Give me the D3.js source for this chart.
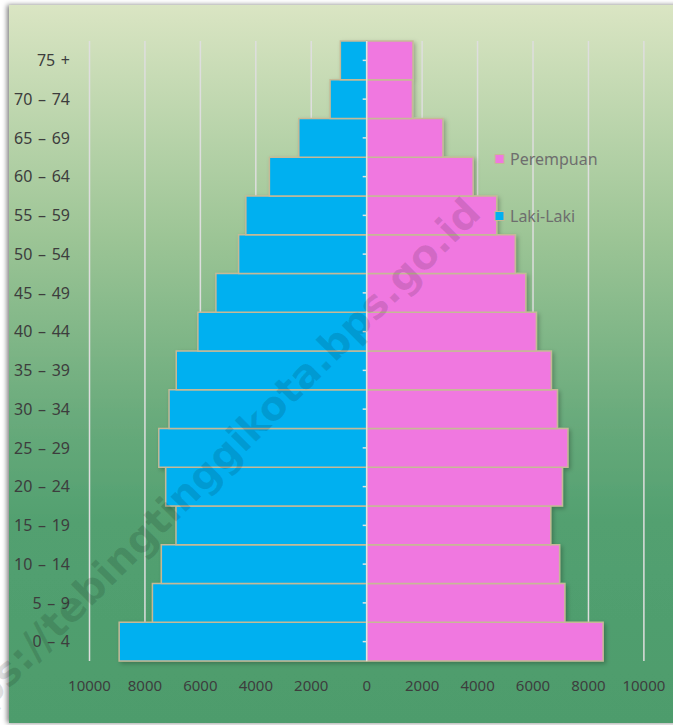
<!DOCTYPE html>
<html lang="id">
<head>
  <meta charset="utf-8">
  <title>Piramida Penduduk</title>
  <script src="https://d3js.org/d3.v7.min.js"></script>
  <style>
    body { margin: 0; background: #ffffff; }
    svg { display: block; }
  </style>
</head>
<body>
  <div id="chart"></div>
  <script>
    // data
    const ageGroups = ["0 – 4", "5 – 9", "10 – 14", "15 – 19", "20 – 24", "25 – 29", "30 – 34", "35 – 39",
                       "40 – 44", "45 – 49", "50 – 54", "55 – 59", "60 – 64", "65 – 69", "70 – 74", "75 +"];
    const lakiLaki  = [8930, 7730, 7410, 6880, 7250, 7500, 7130, 6870, 6090, 5440, 4620, 4360, 3510, 2450, 1320, 950];
    const perempuan = [8530, 7150, 6960, 6640, 7060, 7260, 6880, 6660, 6120, 5740, 5360, 4690, 3840, 2750, 1650, 1670];
    const xTicks = [-10000, -8000, -6000, -4000, -2000, 0, 2000, 4000, 6000, 8000, 10000];
    const seriesNames = ["Perempuan", "Laki-Laki"];

    const W = 673, H = 725;
    const blue = "#00b0f0", pink = "#f078e0", edge = "#c6b996";

    const rows = ageGroups.map((g, i) => ({ group: g, laki: lakiLaki[i], perem: perempuan[i] }));

    const svg = d3.select("#chart").append("svg")
        .attr("width", W)
        .attr("height", H);

    const defs = svg.append("defs");
    const grad = defs.append("linearGradient")
        .attr("id", "bg")
        .attr("gradientUnits", "userSpaceOnUse")
        .attr("x1", 0).attr("y1", 5).attr("x2", 0).attr("y2", 723);
    [[0, "#dae5c3"], [0.32, "#9dc596"], [0.58, "#68aa7b"], [0.72, "#52a070"], [1, "#4e9c6c"]]
      .forEach(s => grad.append("stop").attr("offset", s[0]).attr("stop-color", s[1]));

    const panelShadow = defs.append("filter").attr("id", "panelShadow")
        .attr("x", "-5%").attr("y", "-5%").attr("width", "110%").attr("height", "110%");
    panelShadow.append("feDropShadow")
        .attr("dx", -2).attr("dy", 0).attr("stdDeviation", 2.5)
        .attr("flood-color", "#000").attr("flood-opacity", 0.5);

    const barShadow = defs.append("filter").attr("id", "barShadow")
        .attr("x", "-5%").attr("y", "-20%").attr("width", "110%").attr("height", "140%");
    barShadow.append("feDropShadow")
        .attr("dx", 2).attr("dy", 2).attr("stdDeviation", 2)
        .attr("flood-color", "#000").attr("flood-opacity", 0.25);

    // chart area background
    svg.append("rect")
        .attr("x", 9).attr("y", 5)
        .attr("width", W - 9 + 10).attr("height", 718)
        .attr("fill", "url(#bg)")
        .attr("filter", "url(#panelShadow)");

    // scales
    const x = d3.scaleLinear()
        .domain([-10000, 10000])
        .range([89.5, 643.9]);

    const y = d3.scaleBand()
        .domain(ageGroups.slice().reverse())
        .range([41, 661])
        .padding(0);

    // vertical gridlines
    svg.append("g")
      .selectAll("line")
      .data(xTicks.filter(d => d !== 0))
      .join("line")
        .attr("x1", d => x(d)).attr("x2", d => x(d))
        .attr("y1", 41).attr("y2", 661)
        .attr("stroke", "#dedede")
        .attr("stroke-width", 1.5);

    // bars
    const bars = svg.append("g").attr("filter", "url(#barShadow)");

    bars.selectAll(".laki")
      .data(rows)
      .join("rect")
        .attr("class", "laki")
        .attr("x", d => x(-d.laki))
        .attr("y", d => y(d.group))
        .attr("width", d => x(0) - x(-d.laki))
        .attr("height", y.bandwidth())
        .attr("fill", blue)
        .attr("stroke", edge)
        .attr("stroke-width", 1.5);

    bars.selectAll(".perem")
      .data(rows)
      .join("rect")
        .attr("class", "perem")
        .attr("x", x(0))
        .attr("y", d => y(d.group))
        .attr("width", d => x(d.perem) - x(0))
        .attr("height", y.bandwidth())
        .attr("fill", pink)
        .attr("stroke", edge)
        .attr("stroke-width", 1.5);

    // centre axis with small ticks to the left
    const yAxis = svg.append("g")
        .attr("transform", `translate(${x(0)},0)`)
        .call(d3.axisLeft(y).tickSize(4).tickFormat(""));
    yAxis.select(".domain").attr("stroke", "#e2e2e2").attr("stroke-width", 1.5)
        .attr("d", `M0,41V661`);
    yAxis.selectAll(".tick line").attr("stroke", "#e2e2e2").attr("stroke-width", 1.5);

    // age group labels
    svg.append("g")
      .selectAll("text")
      .data(ageGroups)
      .join("text")
        .attr("x", 70)
        .attr("y", d => y(d) + y.bandwidth() / 2)
        .attr("dy", "0.36em")
        .attr("text-anchor", "end")
        .attr("font-family", "'Noto Sans', sans-serif")
        .attr("font-size", 16)
        .attr("word-spacing", 1.5)
        .attr("fill", "#3d3d3d")
        .text(d => d);

    // bottom value labels
    svg.append("g")
      .selectAll("text")
      .data(xTicks)
      .join("text")
        .attr("x", d => x(d))
        .attr("y", 686)
        .attr("dy", "0.36em")
        .attr("text-anchor", "middle")
        .attr("font-family", "'Noto Sans', sans-serif")
        .attr("font-size", 15)
        .attr("fill", "#3d3d3d")
        .text(d => Math.abs(d));

    // legend
    const legend = svg.append("g")
      .selectAll("g")
      .data(seriesNames)
      .join("g")
        .attr("transform", (d, i) => `translate(495,${159 + i * 57})`);
    legend.append("rect")
        .attr("x", 0).attr("y", -4.5)
        .attr("width", 9).attr("height", 9)
        .attr("fill", d => d === "Perempuan" ? pink : blue)
        .attr("stroke", edge)
        .attr("stroke-width", 1);
    legend.append("text")
        .attr("x", 15)
        .attr("dy", "0.36em")
        .attr("font-family", "'Noto Sans', sans-serif")
        .attr("font-size", 16)
        .attr("fill", "#6e6e6e")
        .text(d => d);

    // watermark (runs off the lower-left corner, as in the source image)
    svg.append("text")
        .attr("transform", "translate(483,215) rotate(-45)")
        .attr("text-anchor", "end")
        .attr("font-family", "'DejaVu Sans', sans-serif")
        .attr("font-weight", "bold")
        .attr("font-size", 40)
        .attr("fill", "#000")
        .attr("fill-opacity", 0.12)
        .text("https://tebingtinggikota.bps.go.id");
  </script>
</body>
</html>
